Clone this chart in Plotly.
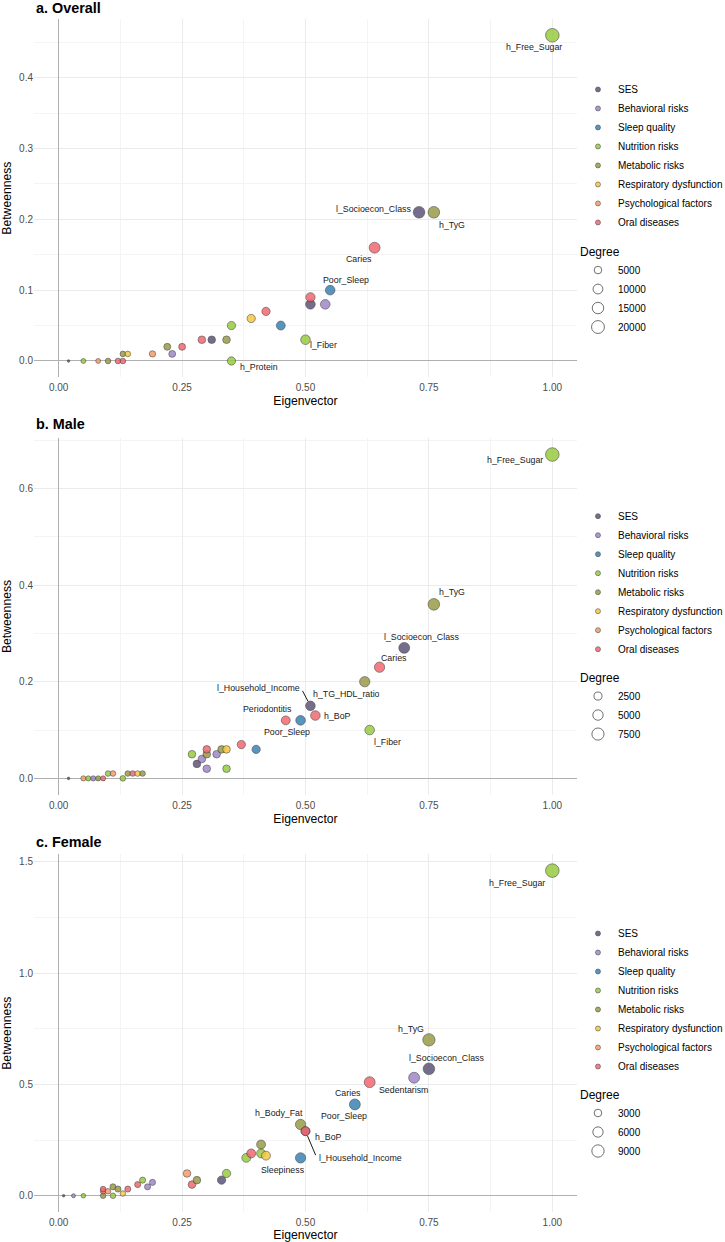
import numpy as np
import plotly.graph_objects as go

group_names = {
    "SES": "SES",
    "Beh": "Behavioral risks",
    "Slp": "Sleep quality",
    "Nut": "Nutrition risks",
    "Met": "Metabolic risks",
    "Resp": "Respiratory dysfunction",
    "Psy": "Psychological factors",
    "Oral": "Oral diseases",
}
group_colors = {
    "SES": "#5F5478",
    "Beh": "#9F88C8",
    "Slp": "#3A82B3",
    "Nut": "#98CB40",
    "Met": "#9A9C48",
    "Resp": "#F5C842",
    "Psy": "#F79C68",
    "Oral": "#F26870",
}

# ---- a. Overall ----
a_label = ["", "", "", "", "", "", "", "", "", "", "", "", "", "", "", "",
           "h_Protein", "", "", "", "l_Fiber", "", "", "", "Poor_Sleep",
           "Caries", "l_Socioecon_Class", "h_TyG", "h_Free_Sugar"]
a_group = ["SES", "Nut", "Psy", "Met", "Oral", "Oral", "Met", "Resp", "Psy", "Met",
           "Beh", "Oral", "Oral", "SES", "Met", "Nut", "Nut", "Resp", "Oral", "Slp",
           "Nut", "SES", "Oral", "Beh", "Slp", "Oral", "SES", "Met", "Nut"]
a_eig = [0.02, 0.05, 0.08, 0.10, 0.12, 0.13, 0.13, 0.14, 0.19, 0.22,
         0.23, 0.25, 0.29, 0.31, 0.34, 0.35, 0.35, 0.39, 0.42, 0.45,
         0.50, 0.51, 0.51, 0.54, 0.55, 0.64, 0.73, 0.76, 1.00]
a_btw = [0.00, 0.00, 0.00, 0.00, 0.00, 0.00, 0.01, 0.01, 0.01, 0.02,
         0.01, 0.02, 0.03, 0.03, 0.03, 0.05, 0.00, 0.06, 0.07, 0.05,
         0.03, 0.08, 0.09, 0.08, 0.10, 0.16, 0.21, 0.21, 0.46]
a_deg = [400, 1380, 1380, 2070, 2070, 2070, 2070, 2070, 2930, 3830,
         3830, 3830, 5030, 5030, 5030, 6400, 6400, 6400, 6400, 7750,
         9470, 9470, 8500, 9470, 9470, 13150, 15390, 15390, 22800]
a_breaks = [5000, 10000, 15000, 20000]

# ---- b. Male ----
b_label = ["", "", "", "", "", "", "", "", "", "", "", "", "", "", "", "", "",
           "", "", "", "", "", "", "", "", "Periodontitis", "Poor_Sleep",
           "l_Household_Income", "h_BoP", "h_TG_HDL_ratio", "l_Fiber", "Caries",
           "l_Socioecon_Class", "h_TyG", "h_Free_Sugar"]
b_group = ["SES", "Psy", "Nut", "Beh", "Met", "Oral", "Nut", "Psy", "Nut", "Met",
           "Oral", "Resp", "Met", "Nut", "SES", "Beh", "Beh", "Met", "Oral", "Beh",
           "Met", "Resp", "Nut", "Oral", "Slp", "Oral", "Slp", "SES", "Oral", "Met",
           "Nut", "Oral", "SES", "Met", "Nut"]
b_eig = [0.02, 0.05, 0.06, 0.07, 0.08, 0.09, 0.10, 0.11, 0.13, 0.14,
         0.15, 0.16, 0.17, 0.27, 0.28, 0.29, 0.30, 0.30, 0.30, 0.32,
         0.33, 0.34, 0.34, 0.37, 0.40, 0.46, 0.49, 0.51, 0.52, 0.62,
         0.63, 0.65, 0.70, 0.76, 1.00]
b_btw = [0.00, 0.00, 0.00, 0.00, 0.00, 0.00, 0.01, 0.01, 0.00, 0.01,
         0.01, 0.01, 0.01, 0.05, 0.03, 0.04, 0.02, 0.05, 0.06, 0.05,
         0.06, 0.06, 0.02, 0.07, 0.06, 0.12, 0.12, 0.15, 0.13, 0.20,
         0.10, 0.23, 0.27, 0.36, 0.67]
b_deg = [100, 610, 610, 610, 610, 610, 830, 830, 830, 830,
         830, 830, 830, 2130, 2130, 2130, 2130, 2130, 2130, 2130,
         2130, 2130, 2130, 2730, 2730, 3310, 4070, 4070, 4070, 4900,
         4070, 4900, 5680, 6660, 9900]
b_breaks = [2500, 5000, 7500]

# ---- c. Female ----
c_label = ["", "", "", "", "", "", "", "", "", "", "", "", "", "", "", "", "",
           "", "", "", "", "", "", "", "", "", "Sleepiness", "h_Body_Fat",
           "l_Household_Income", "h_BoP", "Poor_Sleep", "Caries", "Sedentarism",
           "l_Socioecon_Class", "h_TyG", "h_Free_Sugar"]
c_group = ["SES", "Beh", "Nut", "Met", "Oral", "Oral", "Psy", "Nut", "Met", "Met",
           "Resp", "Oral", "Oral", "Nut", "Beh", "Beh", "Psy", "Oral", "Met", "SES",
           "Nut", "Nut", "Oral", "Met", "Nut", "Resp", "Slp", "Met", "SES", "Oral",
           "Slp", "Oral", "Beh", "SES", "Met", "Nut"]
c_eig = [0.01, 0.03, 0.05, 0.09, 0.09, 0.09, 0.10, 0.11, 0.11, 0.12,
         0.13, 0.14, 0.16, 0.17, 0.18, 0.19, 0.26, 0.27, 0.28, 0.33,
         0.34, 0.38, 0.39, 0.41, 0.41, 0.42, 0.49, 0.49, 0.50, 0.50,
         0.60, 0.63, 0.72, 0.75, 0.75, 1.00]
c_btw = [0.00, 0.00, 0.00, 0.00, 0.02, 0.03, 0.02, 0.00, 0.04, 0.03,
         0.01, 0.03, 0.05, 0.07, 0.04, 0.06, 0.10, 0.05, 0.07, 0.07,
         0.10, 0.17, 0.19, 0.23, 0.19, 0.18, 0.17, 0.32, 0.29, 0.29,
         0.41, 0.51, 0.53, 0.57, 0.70, 1.46]
c_deg = [850, 1020, 1170, 1610, 1610, 1610, 1610, 1610, 1890, 1890,
         1610, 1890, 1890, 1890, 1890, 1890, 3000, 3000, 3000, 3640,
         3640, 4270, 4270, 4270, 4270, 4270, 5970, 5970, 4270, 4270,
         6800, 6800, 6800, 7850, 9000, 11300]
c_breaks = [3000, 6000, 9000]

# label offsets in px (dx right, dy up) and leader segments
a_offsets = {"h_Free_Sugar": (-18, -12), "l_Socioecon_Class": (-46, 3), "h_TyG": (18, -13),
             "Caries": (-16, -11), "Poor_Sleep": (16, 10), "l_Fiber": (18, -5),
             "h_Protein": (28, -6)}
b_offsets = {"h_Free_Sugar": (-37, -5), "h_TyG": (18, 12), "l_Socioecon_Class": (17, 11),
             "Caries": (14, 9), "h_TG_HDL_ratio": (-18, -12), "h_BoP": (22, 0),
             "Periodontitis": (-18, 11), "Poor_Sleep": (-14, -12),
             "l_Household_Income": (-52, 18), "l_Fiber": (18, -12)}
c_offsets = {"h_Free_Sugar": (-35, -12), "h_TyG": (-18, 11), "l_Socioecon_Class": (18, 11),
             "Sedentarism": (-11, -12), "Caries": (-22, -11), "Poor_Sleep": (-11, -12),
             "h_Body_Fat": (-22, 11), "h_BoP": (23, -6), "l_Household_Income": (55, -27),
             "Sleepiness": (-18, -12)}
b_segments = {"l_Household_Income": (-9, -17)}
c_segments = {"l_Household_Income": (11, 26)}

panels = [
    ("a. Overall", a_label, a_group, a_eig, a_btw, a_deg, a_breaks, a_offsets, {}, 0.1, 0.05),
    ("b. Male", b_label, b_group, b_eig, b_btw, b_deg, b_breaks, b_offsets, b_segments, 0.2, 0.1),
    ("c. Female", c_label, c_group, c_eig, c_btw, c_deg, c_breaks, c_offsets, c_segments, 0.5, 0.25),
]

domains = [[0.6997, 1.0], [0.3499, 0.6485], [0.0, 0.2998]]
title_y = [1.0094, 0.6603, 0.3104]
legend_y = [(0.9531, 0.8148), (0.5954, 0.4577), (0.2456, 0.1082)]

FONT = "Liberation Sans, Arial, sans-serif"


def size_px(v, vmin, vmax):
    u = np.clip((np.asarray(v, dtype=float) - vmin) / (vmax - vmin), 0, 1)
    return 2.6 + 11.0 * np.sqrt(u)


fig = go.Figure()
annotations = []
layout_axes = {}

for i, (title, lab, grp, eig, btw, deg, breaks, offs, segs, ydt, ymdt) in enumerate(panels):
    k = "" if i == 0 else str(i + 1)
    xa, ya = "x" + k, "y" + k
    leg_c = "legend" if i == 0 else "legend" + str(2 * i + 1)
    leg_s = "legend" + str(2 * i + 2)
    dmin, dmax = min(deg), max(deg)

    fig.add_trace(go.Scatter(
        x=eig, y=btw, mode="markers", xaxis=xa, yaxis=ya, showlegend=False,
        marker=dict(size=size_px(deg, dmin, dmax),
                    color=[group_colors[g] for g in grp], opacity=0.85,
                    line=dict(color="#333333", width=0.6)),
        hovertext=lab,
    ))

    # colour legend
    for g in group_names:
        fig.add_trace(go.Scatter(
            x=[None], y=[None], mode="markers", xaxis=xa, yaxis=ya,
            name=group_names[g], legend=leg_c,
            marker=dict(size=5, color=group_colors[g], opacity=0.85,
                        line=dict(color="#333333", width=0.6)),
        ))
    # size legend
    for b in breaks:
        fig.add_trace(go.Scatter(
            x=[None], y=[None], mode="markers", xaxis=xa, yaxis=ya,
            name=str(b), legend=leg_s,
            marker=dict(size=float(size_px(b, dmin, dmax)), color="white",
                        line=dict(color="#4D4D4D", width=0.8)),
        ))

    # labels
    for j, name in enumerate(lab):
        if not name:
            continue
        dx, dy = offs[name]
        annotations.append(dict(
            x=eig[j], y=btw[j], xref=xa, yref=ya, text=name, showarrow=False,
            xshift=dx, yshift=dy, font=dict(size=8.8, color="#1A1A1A", family=FONT)))
        if name in segs:
            sx, sy = segs[name]
            annotations.append(dict(
                x=eig[j], y=btw[j], xref=xa, yref=ya, text=" ", showarrow=True,
                arrowhead=0, arrowwidth=1, arrowcolor="#1A1A1A", ax=sx, ay=sy,
                standoff=5, font=dict(size=1)))

    annotations.append(dict(
        x=0, y=title_y[i], xref="paper", yref="paper", xanchor="left", yanchor="middle",
        text="<b>" + title + "</b>", showarrow=False,
        font=dict(size=14.4, color="black", family=FONT)))

    xmin, xmax = min(0, min(eig)), max(eig)
    ymin, ymax = min(0, min(btw)), max(btw)
    xp, yp = 0.05 * (xmax - xmin), 0.05 * (ymax - ymin)

    axis_common = dict(showline=False, ticks="", zeroline=True, zerolinecolor="#B0B0B0",
                       zerolinewidth=1, gridcolor="#EBEBEB", gridwidth=1, automargin=False,
                       tickfont=dict(size=10, color="#4D4D4D", family=FONT))
    layout_axes["xaxis" + k] = dict(
        axis_common, anchor=ya, domain=[0, 1], range=[xmin - xp, xmax + xp],
        dtick=0.25, tick0=0, tickformat=".2f", ticklabelstandoff=3,
        minor=dict(dtick=0.125, tick0=0, showgrid=True, gridcolor="#F4F4F4", gridwidth=0.6),
        title=dict(text="Eigenvector", font=dict(size=12.2, color="black", family=FONT),
                   standoff=4))
    layout_axes["yaxis" + k] = dict(
        axis_common, anchor=xa, domain=domains[i], range=[ymin - yp, ymax + yp],
        dtick=ydt, tick0=0, tickformat=".1f",
        minor=dict(dtick=ymdt, tick0=0, showgrid=True, gridcolor="#F4F4F4", gridwidth=0.6),
        title=dict(text="Betweenness", font=dict(size=12.2, color="black", family=FONT),
                   standoff=4))

    layout_axes[leg_c] = dict(
        x=1.0018, y=legend_y[i][0], xanchor="left", yanchor="top",
        bgcolor="rgba(0,0,0,0)", font=dict(size=10, color="black", family=FONT),
        itemsizing="trace", traceorder="normal")
    layout_axes[leg_s] = dict(
        x=1.0018, y=legend_y[i][1], xanchor="left", yanchor="top",
        bgcolor="rgba(0,0,0,0)", font=dict(size=10, color="black", family=FONT),
        title=dict(text="Degree", font=dict(size=12, color="black", family=FONT)),
        itemsizing="trace", traceorder="normal")

fig.update_layout(
    width=725, height=1242,
    margin=dict(l=34, r=148, t=19, b=30, autoexpand=False),
    plot_bgcolor="white", paper_bgcolor="white",
    font=dict(family=FONT),
    annotations=annotations,
    **layout_axes,
)

fig.write_html("out.html", config={"displayModeBar": False},
               post_script="document.body.style.margin='0';")
